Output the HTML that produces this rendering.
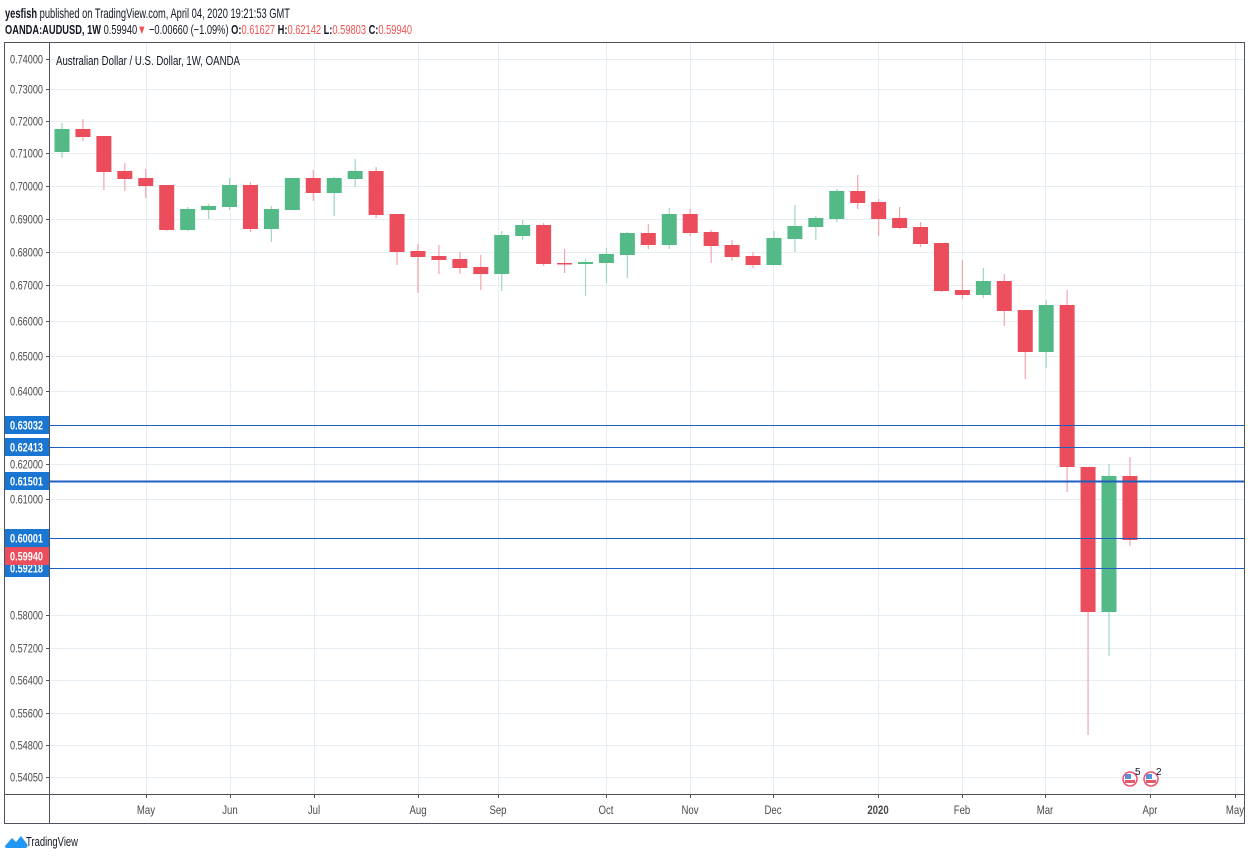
<!DOCTYPE html>
<html><head><meta charset="utf-8"><style>
body{margin:0;background:#fff;width:1250px;height:860px;overflow:hidden;font-family:"Liberation Sans",sans-serif}
svg{position:absolute;left:0;top:0}
text{font-family:"Liberation Sans",sans-serif}
</style></head><body>
<svg id="s" width="1250" height="860" xmlns="http://www.w3.org/2000/svg">
<text x="5" y="18" font-size="14" fill="#131722" textLength="285" lengthAdjust="spacingAndGlyphs"><tspan font-weight="bold">yesfish</tspan> published on TradingView.com, April 04, 2020 19:21:53 GMT</text>
<text x="5" y="34" font-size="13" fill="#131722" textLength="407" lengthAdjust="spacingAndGlyphs"><tspan font-weight="bold">OANDA:AUDUSD, 1W</tspan> 0.59940<tspan fill="#ef5350">▼</tspan> −0.00660 (−1.09%) <tspan font-weight="bold">O:</tspan><tspan fill="#ef5350">0.61627</tspan> <tspan font-weight="bold">H:</tspan><tspan fill="#ef5350">0.62142</tspan> <tspan font-weight="bold">L:</tspan><tspan fill="#ef5350">0.59803</tspan> <tspan font-weight="bold">C:</tspan><tspan fill="#ef5350">0.59940</tspan></text>
<g id="grid"></g>
<g id="c"></g>
<g id="lv"></g>
<rect x="4.5" y="42.5" width="1240" height="781" fill="none" stroke="#50535e" stroke-width="1"/>
<line x1="49.5" y1="42" x2="49.5" y2="824" stroke="#50535e"/>
<line x1="4" y1="794.5" x2="1245" y2="794.5" stroke="#50535e"/>
<text x="56" y="65" font-size="13" fill="#131722" textLength="184" lengthAdjust="spacingAndGlyphs">Australian Dollar / U.S. Dollar, 1W, OANDA</text>
<g id="ax"></g>
<g transform="translate(5,834)"><path d="M0 12 L7 4 L11 8 L16 2 L22 10 Q24 14 19 14 L3 14 Q-1 14 0 12Z" fill="#2196f3"/></g>
<text x="26" y="846" font-size="13" fill="#131722" textLength="52" lengthAdjust="spacingAndGlyphs">TradingView</text>
<g font-size="10" fill="#131722">
<circle cx="1130" cy="779" r="7" fill="#fff" stroke="#f0506e" stroke-width="1.5"/><rect x="1125" y="774" width="6" height="5" fill="#5b8fd8"/><rect x="1125" y="780" width="10" height="3" fill="#e45a6a"/>
<text x="1135" y="775">5</text>
<circle cx="1151" cy="779" r="7" fill="#fff" stroke="#f0506e" stroke-width="1.5"/><rect x="1146" y="774" width="6" height="5" fill="#5b8fd8"/><rect x="1146" y="780" width="10" height="3" fill="#e45a6a"/>
<text x="1156" y="775">2</text>
</g>
</svg>
<script>
const NS="http://www.w3.org/2000/svg";
function el(p,t,a,tx){const e=document.createElementNS(NS,t);for(const k in a)e.setAttribute(k,a[k]);if(tx!==undefined)e.textContent=tx;document.getElementById(p).appendChild(e);return e;}
const yl=[["0.74000",59],["0.73000",89],["0.72000",121],["0.71000",153],["0.70000",186],["0.69000",219],["0.68000",252],["0.67000",285],["0.66000",321],["0.65000",356],["0.64000",391],["0.62000",464],["0.61000",499],["0.58000",615],["0.57200",648],["0.56400",680],["0.55600",713],["0.54800",745],["0.54050",777]];
yl.forEach(([t,y])=>{el("grid","line",{x1:50,x2:1245,y1:y+.5,y2:y+.5,stroke:"#e6edf3"});el("ax","line",{x1:46,x2:50,y1:y+.5,y2:y+.5,stroke:"#50535e"});el("ax","text",{x:10,y:y+4.5,"font-size":12,fill:"#4a4a4a",textLength:33,lengthAdjust:"spacingAndGlyphs"},t);});
const xl=[["May",146],["Jun",230],["Jul",314],["Aug",418],["Sep",498],["Oct",606],["Nov",690],["Dec",773],["2020",878],["Feb",962],["Mar",1045],["Apr",1150],["May",1235]];
xl.forEach(([t,x])=>{el("grid","line",{x1:x+.5,x2:x+.5,y1:43,y2:794,stroke:"#e6edf3"});el("ax","line",{x1:x+.5,x2:x+.5,y1:794,y2:798,stroke:"#50535e"});const e=el("ax","text",{x:x,y:814,"font-size":12,fill:"#4a4a4a","text-anchor":"middle",transform:`translate(${x},0) scale(0.8,1) translate(${-x},0)`},t);if(t=="2020")e.setAttribute("font-weight","bold");});
const C=[[152,129,123,158,1],[129,137,119,141,0],[136,172,136,190,0],[171,179,163,191,0],[178,186,169,198,0],[185,230,185,231,0],[230,209,207,231,1],[210,206,204,219,1],[207,185,178,210,1],[185,229,182,232,0],[229,209,206,242,1],[210,178,178,210,1],[178,193,170,201,0],[193,178,177,216,1],[179,171,159,187,1],[171,215,167,218,0],[214,252,214,265,0],[251,257,244,293,0],[256,260,245,274,0],[259,268,252,274,0],[267,274,255,290,0],[274,235,231,291,1],[236,225,220,240,1],[225,264,223,266,0],[263,264,249,273,0],[264,262,259,296,1],[263,254,248,283,1],[255,233,232,278,1],[233,245,224,249,0],[245,214,208,249,1],[214,233,209,236,0],[232,246,230,263,0],[245,257,240,261,0],[256,265,252,268,0],[265,238,231,265,1],[239,226,205,252,1],[227,218,216,240,1],[219,191,189,222,1],[191,203,175,209,0],[202,219,199,236,0],[218,228,207,229,0],[227,244,222,247,0],[243,291,243,292,0],[290,295,260,299,0],[295,281,268,298,1],[281,311,274,326,0],[310,352,310,379,0],[352,305,300,368,1],[305,467,290,492,0],[467,612,467,735,0],[612,476,464,656,1],[476,540,457,546,0]];
C.forEach((c,i)=>{const x=62+i*20.94;const g=c[4];const top=Math.min(c[0],c[1]),h=Math.max(1.5,Math.abs(c[0]-c[1]));
el("c","line",{x1:x,x2:x,y1:c[2],y2:c[3],stroke:g?"#9fd8bd":"#f5a3ad","stroke-width":1.2});
el("c","rect",{x:x-7.5,y:top,width:15,height:h,fill:g?"#53b987":"#eb4d5c"});});
const L=[["0.63032",425,1,"#1976d2"],["0.62413",447,1,"#1976d2"],["0.61501",481,2,"#1976d2"],["0.60001",538,1,"#1976d2"],["0.59218",568,1,"#1976d2"]];
L.forEach(([t,y,w,c])=>el("lv","line",{x1:50,x2:1245,y1:y+.5,y2:y+.5,stroke:"#1e5fbf","stroke-width":w}));
L.concat([["0.59940",556,0,"#eb4d5c"]]).forEach(([t,y,w,c])=>{el("ax","rect",{x:5,y:y-9,width:44,height:18,fill:c});el("ax","text",{x:10,y:y+4.5,"font-size":12,fill:"#fff","font-weight":"bold",textLength:33,lengthAdjust:"spacingAndGlyphs"},t);});
</script>
</body></html>
